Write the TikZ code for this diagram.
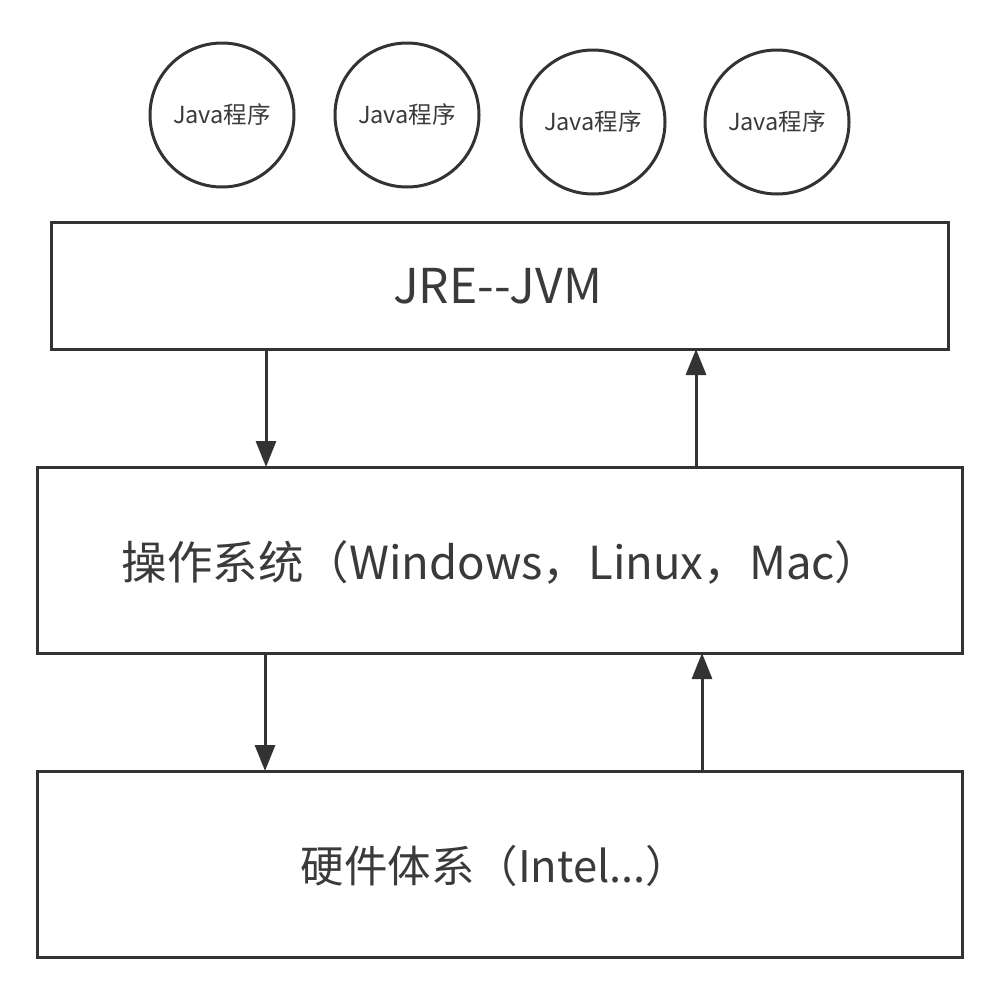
\documentclass[tikz,border=0pt]{standalone}
\usepackage{fontspec}
\setmainfont{Noto Sans CJK SC}
\usetikzlibrary{arrows.meta}
\definecolor{ink}{HTML}{333333}
\definecolor{txt}{HTML}{3A3A3A}
\begin{document}
\begin{tikzpicture}[x=1pt,y=-1pt,
  prog/.style={circle,draw=ink,line width=3pt,minimum size=144pt,inner sep=0pt,outer sep=0pt,
    text=txt,font=\fontsize{23.5}{28}\selectfont},
  layer/.style={rectangle,draw=ink,line width=3pt,inner sep=0pt,outer sep=0pt},
  lbl/.style={text=txt,inner sep=0pt},
  arr/.style={draw=ink,line width=3pt,-{Triangle[length=26pt,width=20pt]}}]
\useasboundingbox[fill=white] (0,0) rectangle (998,983);
\node[prog] (c1) at (222,115) {Java程序};
\node[prog] (c2) at (407,115) {Java程序};
\node[prog] (c3) at (593,122) {Java程序};
\node[prog] (c4) at (777,122) {Java程序};
\node[layer,minimum width=897pt,minimum height=127pt] (b1) at (499.5,285.5) {};
\node[layer,minimum width=925pt,minimum height=186pt] (b2) at (499.5,560) {};
\node[layer,minimum width=925pt,minimum height=186pt] (b3) at (499.5,864) {};
\node[lbl,font=\fontsize{48}{56}\selectfont] (t1) at (497.5,286) {JRE{-}{-}JVM};
\node[lbl,font=\fontsize{45.5}{54}\selectfont] (t2) at (501,562) {操作系统（Windows，Linux，Mac）};
\node[lbl,font=\fontsize{43.5}{52}\selectfont] (t3) at (495,866) {硬件体系（Intel...）};
\coordinate (xa) at (266,0);
\coordinate (xb) at (696,0);
\coordinate (xc) at (265,0);
\coordinate (xd) at (702,0);
\draw[arr] (b1.south -| xa) -- (b2.north -| xa);
\draw[arr] (b2.north -| xb) -- (b1.south -| xb);
\draw[arr] (b2.south -| xc) -- (b3.north -| xc);
\draw[arr] (b3.north -| xd) -- (b2.south -| xd);
\end{tikzpicture}
\end{document}
